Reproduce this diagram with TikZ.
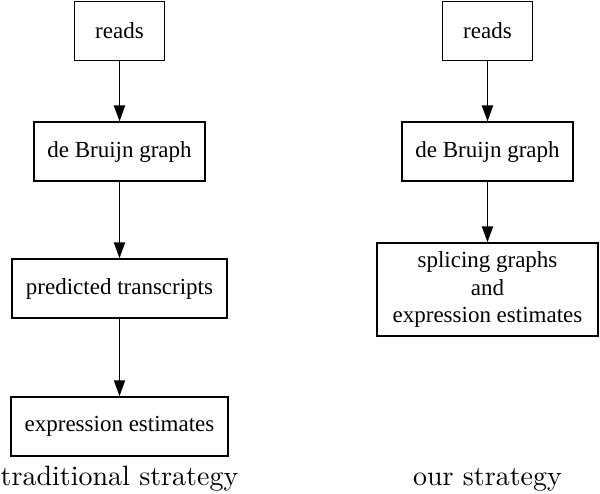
\documentclass[tikz,border=0pt]{standalone}
\usepackage{fontspec}
\newfontfamily\dotfont{Liberation Serif}
\usetikzlibrary{positioning,arrows.meta}
\newcommand\stratlabel[1]{\scalebox{2.8}{#1}}
\begin{document}
\begin{tikzpicture}
  [box/.style={draw,line width=1.9pt,inner xsep=13.5pt,inner ysep=4pt,
    minimum width=90pt,minimum height=59pt,align=center,
    font=\dotfont\fontsize{23}{27.5}\selectfont},
  flow/.style={-{Triangle[length=16pt,width=11pt]},line width=1.9pt},
  strategy/.style={anchor=base,inner sep=0pt},
  node distance=60pt]
\useasboundingbox (0,0) rectangle (600pt,-493pt);
% traditional strategy
\node[box] (readsL) at (119.5pt,-31pt) {reads};
\node[box,below=of readsL] (dbgL) {de Bruijn graph};
\node[box,below=76pt of dbgL] (predL) {predicted transcripts};
\node[box,below=77pt of predL] (exprL) {expression estimates};
\draw[flow] (readsL) -- (dbgL);
\draw[flow] (dbgL) -- (predL);
\draw[flow] (predL) -- (exprL);
% our strategy
\node[box] (readsR) at (487.5pt,-31pt) {reads};
\node[box,below=of readsR] (dbgR) {de Bruijn graph};
\node[box,below=of dbgR,minimum height=93pt,inner xsep=16pt] (splR)
  {splicing graphs\\and\\expression estimates};
\draw[flow] (readsR) -- (dbgR);
\draw[flow] (dbgR) -- (splR);
% captions
\node[strategy] (tradlbl) at (119.5pt,-485pt) {\stratlabel{traditional strategy}};
\node[strategy] (ourlbl) at (487.5pt,-485pt) {\stratlabel{our strategy}};
\end{tikzpicture}
\end{document}
